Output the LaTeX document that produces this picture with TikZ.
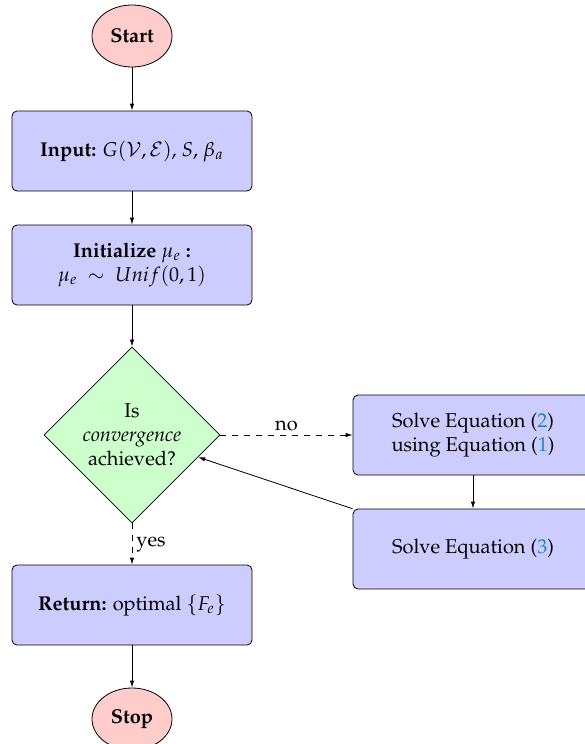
\documentclass[tikz,border=0pt]{standalone}
\usepackage[T1]{fontenc}
\usepackage{mathpazo}
\usetikzlibrary{shapes.geometric,arrows.meta}
\definecolor{linkblue}{RGB}{35,130,195}
\begin{document}
\begin{tikzpicture}[x=0.5pt,y=-0.5pt,
 term/.style={ellipse,draw,fill=red!20,minimum width=40pt,minimum height=31pt,inner sep=0pt,font=\bfseries},
 proc/.style={rectangle,draw,rounded corners=2.5pt,fill=blue!20,minimum width=120pt,minimum height=40pt,align=center,inner sep=2pt},
 decis/.style={diamond,draw,fill=green!20,minimum width=88pt,minimum height=88pt,inner sep=0pt,align=center},
 arr/.style={-{Latex[length=3.5pt,width=2.2pt]}},
 lbl/.style={font=\normalsize,inner sep=2pt},
]
\useasboundingbox (0,0) rectangle (584,744);
\node[term] (start) at (132,36) {Start};
\node[proc] (input) at (132,151) {\textbf{Input:} $G(\mathcal{V},\mathcal{E})$, $S$, $\beta_a$};
\node[proc] (init) at (132,265) {\textbf{Initialize $\mu_e$ :}\\ $\mu_e \ \sim\ Unif(0,1)$};
\node[decis] (conv) at (132,435) {Is\\ \textit{convergence}\\ achieved?};
\node[proc] (ret) at (132,605) {\textbf{Return:} optimal $\{F_e\}$};
\node[term] (stop) at (132,719) {Stop};
\node[proc] (s2) at (473,435) {Solve Equation (\textcolor{linkblue}{2})\\ using Equation (\textcolor{linkblue}{1})};
\node[proc] (s3) at (473,549) {Solve Equation (\textcolor{linkblue}{3})};

\draw[arr] (start) -- (input);
\draw[arr] (input) -- (init);
\draw[arr] (init) -- (conv);
\draw[arr,dashed] (conv) -- node[lbl,right] {yes} (ret);
\draw[arr] (ret) -- (stop);
\draw[arr,dashed] (conv) -- node[lbl,above] {no} (s2);
\draw[arr] (s2) -- (s3);
\draw[arr] (s3) -- (conv);
\end{tikzpicture}
\end{document}
